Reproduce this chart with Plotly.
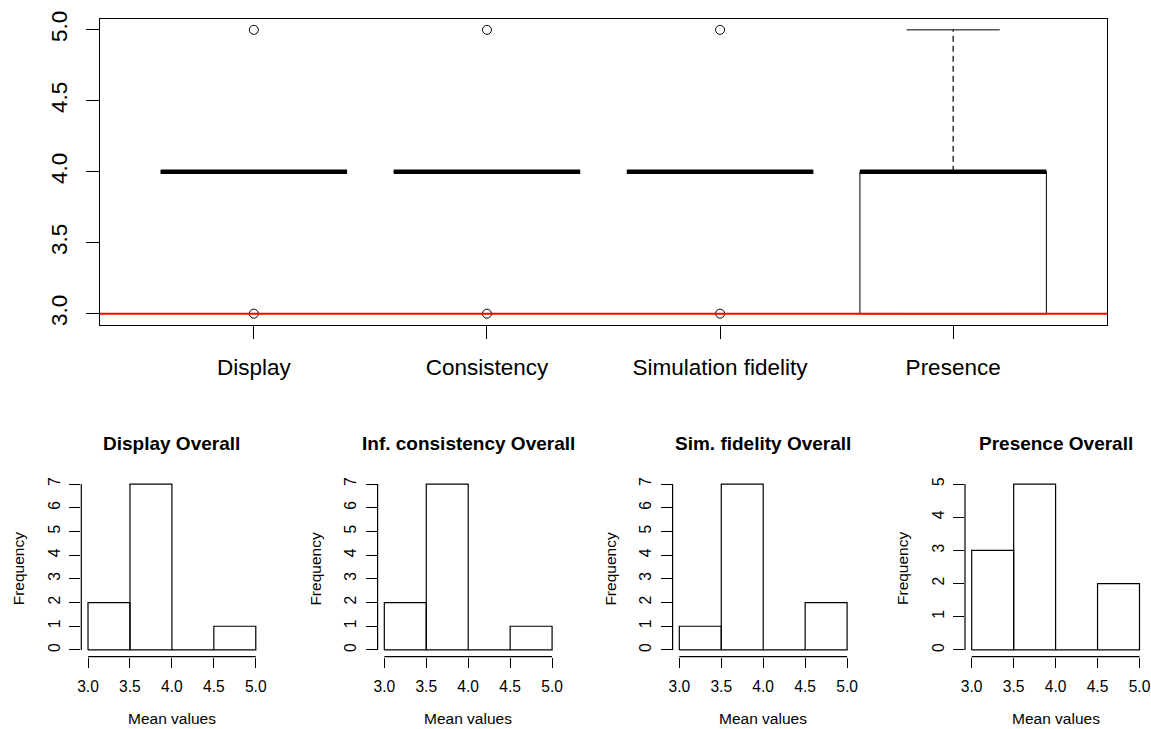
import plotly.graph_objects as go

# ---------------- data ----------------
categories = ["Display", "Consistency", "Simulation fidelity", "Presence"]
box_q1 = [4.0, 4.0, 4.0, 3.0]
box_median = [4.0, 4.0, 4.0, 4.0]
box_q3 = [4.0, 4.0, 4.0, 4.0]
box_lower = [4.0, 4.0, 4.0, 3.0]
box_upper = [4.0, 4.0, 4.0, 5.0]
box_outliers = [[3.0, 5.0], [3.0, 5.0], [3.0, 5.0], []]
reference_line = 3.0

hist_titles = ["Display Overall", "Inf. consistency Overall",
               "Sim. fidelity Overall", "Presence Overall"]
hist_breaks = [3.0, 3.5, 4.0, 4.5, 5.0]
counts_display = [2, 7, 0, 1]
counts_consistency = [2, 7, 0, 1]
counts_fidelity = [1, 7, 0, 2]
counts_presence = [3, 5, 0, 2]
hist_counts = [counts_display, counts_consistency, counts_fidelity, counts_presence]
hist_xtitle = "Mean values"
hist_ytitle = "Frequency"

# ---------------- layout constants ----------------
W, H = 1151, 729
FONT = "Liberation Sans, Arial, sans-serif"


def px_x(p):
    return p / W


def px_y(p):
    return 1 - p / H


fig = go.Figure()

# ---------------- top boxplot ----------------
half = 0.4
staple = 0.2
bx, by, wx, wy, sx, sy, mx, my, ox, oy = [], [], [], [], [], [], [], [], [], []
for i, _ in enumerate(categories):
    p = i + 1
    bx += [p - half, p + half, p + half, p - half, p - half, None]
    by += [box_q1[i], box_q1[i], box_q3[i], box_q3[i], box_q1[i], None]
    wx += [p, p, None, p, p, None]
    wy += [box_q3[i], box_upper[i], None, box_q1[i], box_lower[i], None]
    sx += [p - staple, p + staple, None, p - staple, p + staple, None]
    sy += [box_upper[i], box_upper[i], None, box_lower[i], box_lower[i], None]
    mx += [p - half, p + half, None]
    my += [box_median[i], box_median[i], None]
    for v in box_outliers[i]:
        ox.append(p)
        oy.append(v)

line_kw = dict(mode="lines", hoverinfo="skip", showlegend=False, xaxis="x", yaxis="y")
fig.add_trace(go.Scatter(x=wx, y=wy, line=dict(color="black", width=1.2, dash="6px,4px"), **line_kw))
fig.add_trace(go.Scatter(x=sx, y=sy, line=dict(color="black", width=1), **line_kw))
fig.add_trace(go.Scatter(x=bx, y=by, line=dict(color="black", width=1), **line_kw))
fig.add_trace(go.Scatter(x=mx, y=my, line=dict(color="black", width=4.5), **line_kw))
fig.add_trace(go.Scatter(x=ox, y=oy, mode="markers", hoverinfo="skip", showlegend=False,
                         marker=dict(symbol="circle-open", size=9, color="black",
                                     line=dict(width=1, color="black")),
                         xaxis="x", yaxis="y"))

fig.add_shape(type="line", xref="x domain", yref="y", x0=0, x1=1,
              y0=reference_line, y1=reference_line,
              line=dict(color="#ff0000", width=2), layer="above")

top_dom_x = [px_x(100), px_x(1107)]
top_dom_y = [px_y(325), px_y(18.5)]
fig.update_layout(
    xaxis=dict(domain=top_dom_x, range=[0.34, 4.66], tickvals=[1, 2, 3, 4],
               ticktext=categories, ticks="outside", ticklen=13, tickwidth=1,
               tickcolor="black", showline=True, linecolor="black", linewidth=1,
               mirror=True, showgrid=False, zeroline=False, anchor="y",
               automargin=False,
               tickfont=dict(family=FONT, size=22.5, color="black"),
               ticklabelstandoff=9),
    yaxis=dict(domain=top_dom_y, range=[2.92, 5.08],
               tickvals=[3.0, 3.5, 4.0, 4.5, 5.0], tickformat=".1f",
               ticks="outside", ticklen=13, tickwidth=1, tickcolor="black",
               showline=True, linecolor="black", linewidth=1, mirror=True,
               showgrid=False, zeroline=False, anchor="x", tickangle=-90,
               automargin=False,
               tickfont=dict(family=FONT, size=22.5, color="black"),
               ticklabelstandoff=10),
)

# ---------------- histograms ----------------
hist_left = [81.3, 377.6, 672.6, 965.0]
hist_w = 181.2
hist_top, hist_bottom = 477.4, 656.6

for k in range(4):
    n = k + 2
    xa, ya = f"x{n}", f"y{n}"
    counts = hist_counts[k]
    px_, py_ = [], []
    for j, c in enumerate(counts):
        l, r = hist_breaks[j], hist_breaks[j + 1]
        px_ += [l, l, r, r, l, None]
        py_ += [0, c, c, 0, 0, None]
    fig.add_trace(go.Scatter(x=px_, y=py_, mode="lines", hoverinfo="skip", showlegend=False,
                             line=dict(color="black", width=1.2), xaxis=xa, yaxis=ya))
    ymax = max(counts)
    xr = [hist_breaks[0] - 0.04 * (hist_breaks[-1] - hist_breaks[0]),
          hist_breaks[-1] + 0.04 * (hist_breaks[-1] - hist_breaks[0])]
    yr = [-0.04 * ymax, ymax * 1.04]
    dom_x = [px_x(hist_left[k]), px_x(hist_left[k] + hist_w)]
    dom_y = [px_y(hist_bottom), px_y(hist_top)]
    fig.layout[f"xaxis{n}"] = dict(
        domain=dom_x, range=xr, tickvals=hist_breaks, tickformat=".1f",
        ticks="outside", ticklen=10, tickwidth=1.2, tickcolor="black",
        showline=False, showgrid=False, zeroline=False, anchor=ya, automargin=False,
        ticklabeloverflow="allow",
        tickfont=dict(family=FONT, size=15.6, color="black"), ticklabelstandoff=6)
    fig.layout[f"yaxis{n}"] = dict(
        domain=dom_y, range=yr, tickvals=list(range(0, ymax + 1)),
        ticks="outside", ticklen=11, tickwidth=1.2, tickcolor="black",
        showline=False, showgrid=False, zeroline=False, anchor=xa, tickangle=-90,
        automargin=False, ticklabeloverflow="allow",
        tickfont=dict(family=FONT, size=15.6, color="black"), ticklabelstandoff=3)
    # axis lines spanning first..last tick (R style)
    fig.add_shape(type="line", xref=xa, yref=f"{ya} domain", x0=hist_breaks[0],
                  x1=hist_breaks[-1], y0=0, y1=0, line=dict(color="black", width=1.2))
    fig.add_shape(type="line", xref=f"{xa} domain", yref=ya, x0=0, x1=0,
                  y0=0, y1=ymax, line=dict(color="black", width=1.2))
    cx = (dom_x[0] + dom_x[1]) / 2
    fig.add_annotation(text=f"<b>{hist_titles[k]}</b>", x=cx, y=px_y(443),
                       xref="paper", yref="paper", showarrow=False,
                       xanchor="center", yanchor="middle",
                       font=dict(family=FONT, size=19, color="black"))
    fig.add_annotation(text=hist_xtitle, x=cx, y=0, xref="paper", yref="paper",
                       showarrow=False, xanchor="center", yanchor="bottom",
                       font=dict(family=FONT, size=15.5, color="black"))
    fig.add_annotation(text=hist_ytitle, x=px_x(hist_left[k] - 63),
                       y=px_y((hist_top + hist_bottom) / 2 + 2),
                       xref="paper", yref="paper", showarrow=False, textangle=-90,
                       xanchor="center", yanchor="middle",
                       font=dict(family=FONT, size=15.5, color="black"))

fig.update_layout(template="none", width=W, height=H,
                  margin=dict(l=0, r=0, t=0, b=0, pad=0, autoexpand=False),
                  paper_bgcolor="white", plot_bgcolor="white", showlegend=False,
                  font=dict(family=FONT, color="black"))

fig.write_html("out.html", config={"displayModeBar": False})
